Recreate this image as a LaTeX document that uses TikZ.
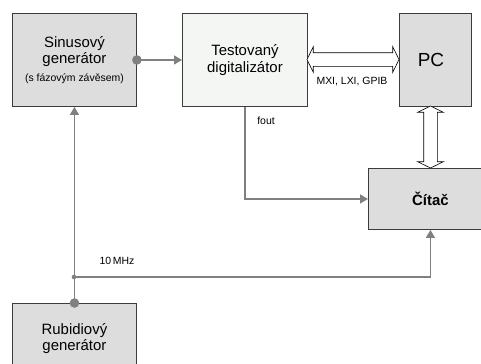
\documentclass[tikz,border=0pt]{standalone}
\usepackage{fontspec}
\setmainfont{Liberation Sans}
\usetikzlibrary{arrows.meta,shapes.arrows}
\definecolor{blokseda}{RGB}{221,221,221}
\definecolor{bloksvetla}{RGB}{243,246,243}
\definecolor{spojseda}{RGB}{128,128,128}
\definecolor{ramseda}{RGB}{60,60,60}
\tikzset{
blok/.style={
  rectangle,
  anchor=north west,
  draw=ramseda,
  fill=blokseda,
  line width=0.9bp,
  inner sep=0pt,
  align=center,
  font=\fontsize{15}{16.5}\selectfont
  },
spoj/.style={
  draw=spojseda,
  line width=1.4bp,
  -{Triangle[length=8bp,width=9bp]}
  },
sbernice/.style={
  double arrow,
  draw=black,
  fill=white,
  line width=0.6bp,
  inner xsep=0pt,
  inner ysep=6.5bp,
  double arrow head extend=6bp,
  double arrow tip angle=128
  },
popis/.style={
  inner sep=0pt,
  font=\fontsize{10.5}{12}\selectfont
  }
}
\begin{document}
\begin{tikzpicture}[x=1bp,y=-1bp]
\useasboundingbox (0,0) rectangle (481,363);

\node[blok,minimum width=124bp,minimum height=93bp]
  at (12,13) (sin)
  {Sinusový\\generátor\\[1.5bp]{\fontsize{10.5}{12}\selectfont (s fázovým závěsem)}};
\node[blok,fill=bloksvetla,minimum width=125bp,minimum height=93bp]
  at (182,13) (test)
  {Testovaný\\digitalizátor};
\node[blok,minimum width=72bp,minimum height=93bp,font=\fontsize{19}{21}\selectfont]
  at (399,13) (pc)
  {PC\hspace*{9bp}};
\node[blok,minimum width=124bp,minimum height=61bp,font=\fontsize{15}{16.5}\bfseries]
  at (368,168) (citac)
  {Čítač};
\node[blok,minimum width=124bp,minimum height=70bp]
  at (12,303) (rub)
  {Rubidiový\\generátor};

\node[sbernice,minimum height=92bp] at (353,59.5) (bus) {};
\node[sbernice,minimum height=62bp,rotate=90] at (430.5,137) (busc) {};

\coordinate (odb) at (74,277);

\draw[spoj] (sin.east) -- (test.west);
\fill[spojseda] (sin.east) circle (4.8bp);
\draw[spoj] (test.south) |- (citac.west);
\draw[spoj] (rub.north) -- (sin.south);
\fill[spojseda] (rub.north) circle (4.8bp);
\draw[spoj] (odb) -| (citac.south);
\fill[spojseda] (odb) circle (2.3bp);

\node[popis] at (352,82) (buslbl) {MXI, LXI, GPIB};
\node[popis] at (266,121) (foutlbl) {fout};
\node[popis] at (117,261) (reflbl) {10\,MHz};
\end{tikzpicture}
\end{document}
